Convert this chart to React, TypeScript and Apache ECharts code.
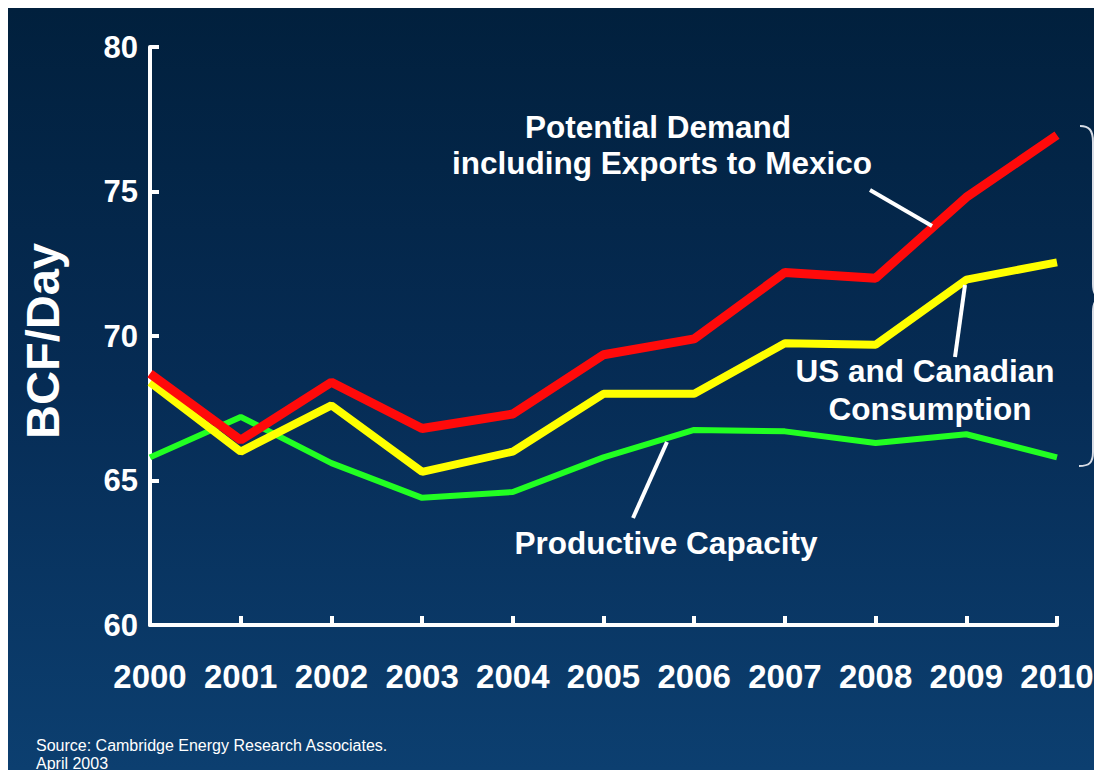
import React, { useEffect, useRef } from "react";
import * as echarts from "echarts";

const years = ["2000", "2001", "2002", "2003", "2004", "2005", "2006", "2007", "2008", "2009", "2010"];
const potentialDemand = [68.7, 66.4, 68.4, 66.8, 67.3, 69.35, 69.9, 72.2, 72.0, 74.8, 76.95];
const usCanadianConsumption = [68.4, 66.0, 67.6, 65.3, 66.0, 68.0, 68.0, 69.75, 69.7, 71.95, 72.55];
const productiveCapacity = [65.8, 67.2, 65.6, 64.4, 64.6, 65.8, 66.75, 66.7, 66.3, 66.6, 65.8];
const yTicks = { min: 60, max: 80, interval: 5 };

const BRACE_D =
  "M1072,118 C1081,118 1085,122 1085,134 L1085,276 C1085,286 1088,289 1094,290 C1088,291 1085,294 1085,304 L1085,444 C1085,455 1081,458 1071,458";

let registered = false;

export default function App() {
  const ref = useRef<HTMLDivElement>(null);
  useEffect(() => {
    document.documentElement.style.overflow = "hidden";
    if (!registered) {
      echarts.graphic.registerShape("brace", echarts.graphic.extendPath(BRACE_D, {}));
      registered = true;
    }
    const chart = echarts.init(ref.current!, null, { renderer: "svg" });
    const font = "Arial, 'Liberation Sans', sans-serif";
    const textStyle = (x: number, y: number, text: string, size = 31.5) => ({
      type: "text",
      x,
      y,
      style: {
        text,
        fill: "#ffffff",
        font: `bold ${size}px ${font}`,
        align: "center",
        verticalAlign: "middle",
      },
      z: 10,
    });
    const leader = (x1: number, y1: number, x2: number, y2: number) => ({
      type: "line",
      shape: { x1, y1, x2, y2 },
      style: { stroke: "#ffffff", lineWidth: 4 },
      z: 10,
    });
    chart.setOption({
      animation: false,
      backgroundColor: new echarts.graphic.LinearGradient(0, 0, 0, 1, [
        { offset: 0, color: "#01203d" },
        { offset: 0.5, color: "#062c55" },
        { offset: 1, color: "#0c3f70" },
      ]),
      grid: { left: 142, right: 45, top: 39, bottom: 145 },
      xAxis: {
        type: "category",
        data: years,
        boundaryGap: false,
        axisLine: { lineStyle: { color: "#ffffff", width: 4 } },
        axisTick: { inside: true, length: 9, interval: 0, lineStyle: { color: "#ffffff", width: 4 } },
        axisLabel: {
          color: "#ffffff",
          fontSize: 33,
          fontWeight: "bold",
          fontFamily: font,
          margin: 35,
          interval: 0,
          hideOverlap: false,
        },
        splitLine: { show: false },
      },
      yAxis: {
        type: "value",
        min: yTicks.min,
        max: yTicks.max,
        interval: yTicks.interval,
        axisLine: { show: true, lineStyle: { color: "#ffffff", width: 4 } },
        axisTick: { show: true, inside: true, length: 9, lineStyle: { color: "#ffffff", width: 4 } },
        axisLabel: {
          color: "#ffffff",
          fontSize: 31,
          fontWeight: "bold",
          fontFamily: font,
          margin: 12,
          padding: [10, 0, 0, 0],
        },
        splitLine: { show: false },
      },
      series: [
        {
          name: "Productive Capacity",
          type: "line",
          data: productiveCapacity,
          symbol: "none",
          lineStyle: { color: "#22ff22", width: 6 },
        },
        {
          name: "US and Canadian Consumption",
          type: "line",
          data: usCanadianConsumption,
          symbol: "none",
          lineStyle: { color: "#ffff00", width: 8 },
        },
        {
          name: "Potential Demand including Exports to Mexico",
          type: "line",
          data: potentialDemand,
          symbol: "none",
          lineStyle: { color: "#ff0a0a", width: 9 },
        },
      ],
      graphic: [
        {
          type: "text",
          x: 34,
          y: 333,
          rotation: Math.PI / 2,
          style: {
            text: "BCF/Day",
            fill: "#ffffff",
            font: `bold 47px ${font}`,
            align: "center",
            verticalAlign: "middle",
          },
        },
        textStyle(650, 119, "Potential Demand"),
        textStyle(654, 155, "including Exports to Mexico"),
        textStyle(917, 363, "US and Canadian"),
        textStyle(922, 401, "Consumption"),
        textStyle(658, 535, "Productive Capacity"),
        leader(862, 182, 924, 218),
        leader(957, 277, 947, 349),
        leader(659, 434, 625, 510),
        {
          type: "brace",
          x: 0,
          y: 0,
          style: { fill: "none", stroke: "#d8dde6", lineWidth: 2 },
        },
        {
          type: "text",
          x: 28,
          y: 737,
          style: {
            text: "Source: Cambridge Energy Research Associates.",
            fill: "#ffffff",
            font: `16px ${font}`,
            verticalAlign: "middle",
          },
        },
        {
          type: "text",
          x: 28,
          y: 755,
          style: {
            text: "April 2003",
            fill: "#ffffff",
            font: `16px ${font}`,
            verticalAlign: "middle",
          },
        },
      ],
    });
    return () => chart.dispose();
  }, []);
  return <div ref={ref} style={{ width: 1094, height: 762 }} />;
}
